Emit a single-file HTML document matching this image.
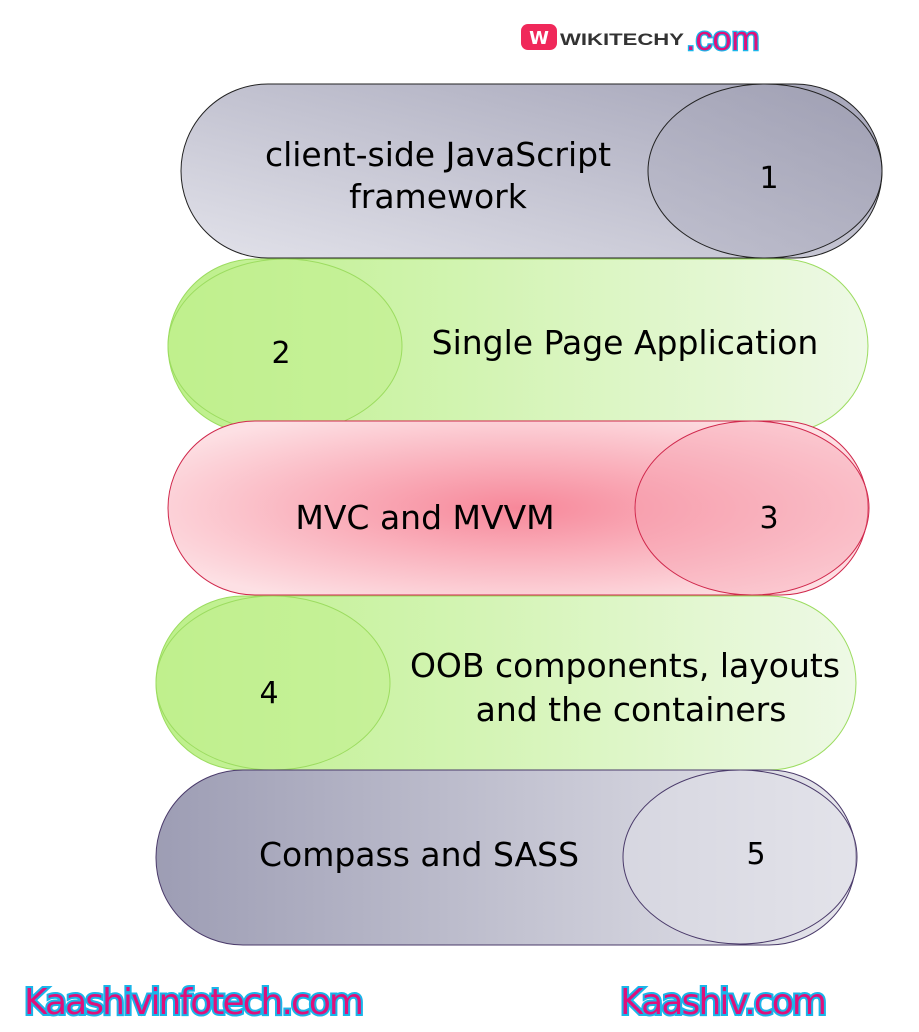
<!DOCTYPE html>
<html><head><meta charset="utf-8"><style>
html,body{margin:0;padding:0;background:#fff;width:919px;height:1032px;overflow:hidden}
svg text{font-family:"DejaVu Sans","Liberation Sans",sans-serif}
</style></head><body>
<svg width="919" height="1032" viewBox="0 0 919 1032" xmlns="http://www.w3.org/2000/svg">
<defs>
<linearGradient id="g1" x1="0" y1="1" x2="1" y2="0"><stop offset="0" stop-color="#e2e2ea"/><stop offset="1" stop-color="#a4a4b8"/></linearGradient>
<linearGradient id="g1c" x1="0" y1="1" x2="1" y2="0"><stop offset="0" stop-color="#b8b8c8"/><stop offset="1" stop-color="#9a9aae"/></linearGradient>
<linearGradient id="g2" x1="0" y1="0" x2="1" y2="0"><stop offset="0" stop-color="#bdf08a"/><stop offset="1" stop-color="#eef9e6"/></linearGradient>
<radialGradient id="g3" cx="0.5" cy="0.5" r="0.6"><stop offset="0" stop-color="#f7889a"/><stop offset="1" stop-color="#fde0e4"/></radialGradient>
<linearGradient id="g5" x1="0" y1="0" x2="1" y2="0"><stop offset="0" stop-color="#9d9db4"/><stop offset="1" stop-color="#e6e6ec"/></linearGradient>
</defs>
<rect x="181" y="84" width="701" height="174" rx="87" fill="url(#g1)" stroke="#222" stroke-width="1"/>
<ellipse cx="765" cy="171" rx="117" ry="87" fill="url(#g1c)" fill-opacity="0.6" stroke="#222"/>
<rect x="168" y="259" width="700" height="174" rx="87" fill="url(#g2)" stroke="#9cdc60"/>
<ellipse cx="285" cy="346" rx="117" ry="87" fill="#c2f090" fill-opacity="0.6" stroke="#9cdc60"/>
<rect x="168" y="421" width="700" height="174" rx="87" fill="url(#g3)" stroke="#d0284c"/>
<ellipse cx="752" cy="508" rx="117" ry="87" fill="#f7a0b0" fill-opacity="0.4" stroke="#d0284c"/>
<rect x="156" y="596" width="700" height="174" rx="87" fill="url(#g2)" stroke="#9cdc60"/>
<ellipse cx="273" cy="683" rx="117" ry="87" fill="#c2f090" fill-opacity="0.6" stroke="#9cdc60"/>
<rect x="156" y="770" width="700" height="175" rx="87" fill="url(#g5)" stroke="#4a3a6a"/>
<ellipse cx="740" cy="857" rx="117" ry="87" fill="#e0e0e8" fill-opacity="0.5" stroke="#4a3a6a"/>
<g font-size="33" fill="#000" text-anchor="middle">
<text x="438" y="166">client-side JavaScript</text>
<text x="438" y="208">framework</text>
<text x="625" y="354">Single Page Application</text>
<text x="425" y="529">MVC and MVVM</text>
<text x="625" y="677">OOB components, layouts</text>
<text x="631" y="721">and the containers</text>
<text x="419" y="866">Compass and SASS</text>
</g>
<g font-size="30" fill="#000" text-anchor="middle">
<text x="769" y="188">1</text><text x="281" y="363">2</text><text x="769" y="528">3</text><text x="269" y="703">4</text><text x="756" y="864">5</text>
</g>
<rect x="521" y="24" width="36" height="26" rx="7" fill="#f0285a"/>
<text x="539" y="44" font-size="18" font-weight="bold" fill="#fff" text-anchor="middle">W</text>
<text x="560" y="45" font-size="17" font-weight="bold" fill="#333" textLength="124" lengthAdjust="spacingAndGlyphs" style="font-family:'Liberation Sans',sans-serif">WIKITECHY</text>
<text x="686" y="50" font-size="34" fill="#e0107a" stroke="#19b5ea" stroke-width="2.5" paint-order="stroke" style="font-family:'Liberation Sans',sans-serif">.com</text>
<g font-size="36" fill="#e0107a" stroke="#19b5ea" stroke-width="4" paint-order="stroke" style="font-family:'DejaVu Sans Condensed','DejaVu Sans',sans-serif">
<text x="24" y="1014" textLength="340">Kaashivinfotech.com</text>
<text x="620" y="1014" textLength="207">Kaashiv.com</text>
</g>
</svg>
</body></html>
